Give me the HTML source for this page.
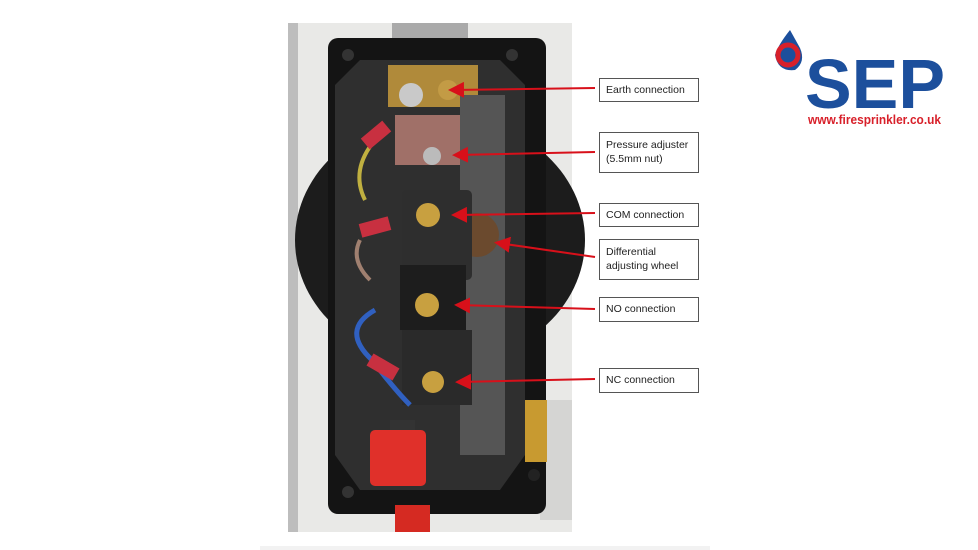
<!DOCTYPE html>
<html><head><style>
body{margin:0;width:978px;height:550px;background:#fff;overflow:hidden;font-family:"Liberation Sans",sans-serif}
.lb{position:absolute;left:599px;width:100px;border:1px solid #555;background:#fff;font-size:10.5px;color:#222;padding:0 0 0 6px;box-sizing:border-box;line-height:14px}
</style></head><body>
<svg width="978" height="550" style="position:absolute;left:0;top:0">
<defs><marker id="a" markerWidth="8" markerHeight="8" refX="6" refY="4" orient="auto"><path d="M0,0 L8,4 L0,8z" fill="#d8101a"/></marker></defs>
<rect x="288" y="23" width="284" height="509" fill="#e9e9e7"/>
<rect x="288" y="23" width="10" height="509" fill="#bdbdbd"/>
<rect x="540" y="400" width="32" height="120" fill="#d5d5d3"/>
<ellipse cx="440" cy="240" rx="145" ry="125" fill="#1c1c1c"/>
<rect x="392" y="23" width="76" height="20" fill="#aaa"/>
<rect x="328" y="38" width="218" height="476" rx="10" fill="#141414"/>
<polygon points="360,60 500,60 525,85 525,455 500,490 360,490 335,455 335,85" fill="#2f2f2f"/>
<rect x="388" y="65" width="90" height="42" fill="#b08a3a"/>
<circle cx="411" cy="95" r="12" fill="#c9c9c9"/>
<circle cx="448" cy="90" r="10" fill="#c39b45"/>
<rect x="395" y="115" width="75" height="50" fill="#a07068"/>
<circle cx="432" cy="156" r="9" fill="#bbb"/>
<rect x="460" y="95" width="45" height="360" fill="#555"/>
<circle cx="477" cy="235" r="22" fill="#6b4a2e"/>
<rect x="402" y="190" width="70" height="90" rx="5" fill="#2e2e2e"/>
<rect x="400" y="265" width="66" height="65" fill="#1d1d1d"/>
<rect x="402" y="330" width="70" height="75" fill="#2a2a2a"/>
<circle cx="428" cy="215" r="12" fill="#c8a040"/>
<circle cx="427" cy="305" r="12" fill="#c8a040"/>
<circle cx="433" cy="382" r="11" fill="#c8a040"/>
<path d="M375,140 Q350,170 365,200" stroke="#c0b040" stroke-width="4" fill="none"/>
<path d="M375,310 Q340,330 372,360 Q395,390 410,405" stroke="#3060c0" stroke-width="5" fill="none"/>
<path d="M360,240 Q350,260 370,280" stroke="#a08070" stroke-width="4" fill="none"/>
<rect x="362" y="128" width="28" height="14" fill="#c83040" transform="rotate(-40 376 135)"/>
<rect x="360" y="220" width="30" height="14" fill="#c83040" transform="rotate(-15 375 227)"/>
<rect x="368" y="360" width="30" height="14" fill="#c83040" transform="rotate(30 383 367)"/>
<rect x="390" y="420" width="25" height="50" fill="#333"/>
<rect x="370" y="430" width="56" height="56" rx="5" fill="#e0302a"/>
<rect x="395" y="505" width="35" height="27" fill="#d52a22"/>
<rect x="525" y="400" width="22" height="62" fill="#c89a30"/>
<circle cx="534" cy="475" r="6" fill="#222"/><circle cx="348" cy="55" r="6" fill="#333"/><circle cx="512" cy="55" r="6" fill="#333"/><circle cx="348" cy="492" r="6" fill="#333"/>
<rect x="260" y="546" width="450" height="4" fill="#f2f2f2"/>
<g stroke="#d8101a" stroke-width="2" marker-end="url(#a)">
<line x1="595" y1="88" x2="452" y2="90"/>
<line x1="595" y1="152" x2="456" y2="155"/>
<line x1="595" y1="213" x2="455" y2="215"/>
<line x1="595" y1="257" x2="498" y2="243"/>
<line x1="595" y1="309" x2="458" y2="305"/>
<line x1="595" y1="379" x2="459" y2="382"/>
</g>
<path d="M790,30 Q778,45 775,55 Q778,72 795,70 Q806,62 800,48z" fill="#1c4f9c"/>
<circle cx="788" cy="55" r="10" fill="none" stroke="#d8202a" stroke-width="5"/>
<text x="805" y="108" font-family="Liberation Sans" font-weight="bold" font-size="70" fill="#1c4f9c" textLength="140" lengthAdjust="spacingAndGlyphs">SEP</text>
<text x="808" y="124" font-family="Liberation Sans" font-weight="bold" font-size="13" fill="#d8202a" textLength="133" lengthAdjust="spacingAndGlyphs">www.firesprinkler.co.uk</text>
</svg>
<div class="lb" style="top:78px;height:24px;line-height:22px">Earth connection</div>
<div class="lb" style="top:132px;height:41px;padding-top:5px">Pressure adjuster<br>(5.5mm nut)</div>
<div class="lb" style="top:203px;height:24px;line-height:22px">COM connection</div>
<div class="lb" style="top:239px;height:41px;padding-top:5px">Differential<br>adjusting wheel</div>
<div class="lb" style="top:297px;height:25px;line-height:23px">NO connection</div>
<div class="lb" style="top:368px;height:25px;line-height:23px">NC connection</div>
</body></html>
